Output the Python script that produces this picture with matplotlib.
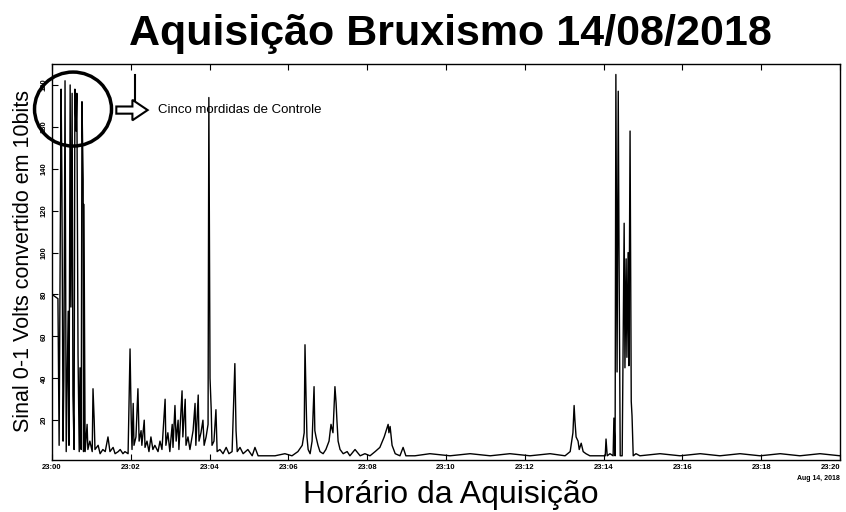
#Aquisicao Bruxismo - sinal do sensor convertido em 10 bits
import numpy as np
import matplotlib
matplotlib.use('Agg')
import matplotlib.pyplot as plt
from matplotlib.patches import Ellipse, FancyArrow
from matplotlib.lines import Line2D

plt.rcParams['font.family'] = ['Liberation Sans', 'DejaVu Sans']

#Step 1: dados (minutos apos 23:00, valor 10 bits)
minutos = [0.00, 0.15, 0.18, 0.23, 0.25, 0.28, 0.30, 0.33, 0.36, 0.41, 0.43, 0.46, 0.48, 0.51,
           0.53, 0.56, 0.58, 0.61, 0.63, 0.66, 0.69, 0.71, 0.74, 0.76, 0.79, 0.80, 0.81, 0.84,
           0.89, 0.91, 0.96, 1.02, 1.04, 1.07, 1.09, 1.17, 1.22, 1.29, 1.35, 1.42, 1.47, 1.55,
           1.60, 1.68, 1.73, 1.80, 1.85, 1.93,
           1.98, 2.01, 2.03, 2.06, 2.08, 2.13, 2.18, 2.21, 2.26, 2.28, 2.34, 2.36, 2.41, 2.46,
           2.51, 2.56, 2.61, 2.69, 2.74, 2.79, 2.87, 2.89, 2.94, 2.99, 3.05, 3.07, 3.12, 3.15,
           3.20, 3.22, 3.30, 3.32, 3.38, 3.40, 3.45, 3.50, 3.58, 3.63, 3.65, 3.71, 3.73, 3.78,
           3.83, 3.86, 3.91, 3.96, 3.98, 4.01, 4.04, 4.06, 4.11, 4.16, 4.19, 4.26, 4.34, 4.42,
           4.49, 4.57, 4.64, 4.67, 4.70, 4.77, 4.85, 4.97, 5.08, 5.15, 5.23,
           5.41, 5.66, 5.91, 6.09, 6.24, 6.35, 6.40, 6.42, 6.45, 6.47, 6.50, 6.55, 6.60, 6.65,
           6.67, 6.70, 6.75, 6.80, 6.88, 6.95, 7.03, 7.08, 7.13, 7.18, 7.21, 7.23, 7.26, 7.31,
           7.39, 7.49, 7.56, 7.69, 7.82, 7.94, 8.07, 8.20, 8.32, 8.43, 8.48, 8.53, 8.55, 8.58,
           8.63, 8.71, 8.83, 8.91, 8.98, 9.21, 9.59, 10.10, 10.61, 11.12, 11.62, 12.13, 12.64,
           13.02, 13.15, 13.22, 13.25, 13.27, 13.30, 13.35, 13.38, 13.43, 13.48, 13.55, 13.65,
           13.91, 14.04, 14.06, 14.09, 14.16, 14.24, 14.26, 14.29, 14.31, 14.34, 14.37, 14.39,
           14.42, 14.47, 14.52, 14.54, 14.57, 14.59, 14.62, 14.64, 14.67, 14.70, 14.72, 14.75,
           14.82, 14.92, 15.43, 15.94, 16.45, 16.95, 17.46, 17.97, 18.48, 18.98, 19.49, 20.00]
sinal = [80, 78, 8, 178, 136, 10, 40, 182, 5, 72, 8, 180, 74, 176,
         32, 6, 178, 158, 176, 51, 5, 45, 6, 172, 135, 5, 123, 5,
         18, 6, 10, 5, 35, 20, 6, 8, 4, 6, 5, 12, 5, 7,
         4, 5, 6, 4, 5, 4,
         54, 20, 6, 28, 8, 12, 35, 10, 15, 8, 20, 7, 10, 5,
         12, 6, 8, 5, 10, 6, 30, 8, 14, 5, 18, 7, 27, 10,
         20, 6, 34, 12, 30, 8, 12, 6, 15, 28, 8, 32, 10, 14,
         20, 8, 12, 18, 174, 40, 25, 8, 10, 25, 5, 6, 4, 7,
         4, 5, 47, 15, 5, 7, 4, 6, 3, 7, 3,
         3, 3, 4, 3, 5, 8, 14, 56, 28, 12, 6, 4, 10, 36,
         15, 12, 8, 5, 4, 6, 10, 18, 14, 36, 28, 20, 10, 6,
         4, 5, 3, 6, 3, 4, 3, 5, 7, 12, 15, 18, 14, 17,
         8, 4, 3, 7, 3, 3, 4, 3, 4, 3, 4, 3, 4,
         3, 5, 14, 27, 20, 12, 10, 6, 9, 5, 4, 3,
         3, 3, 11, 3, 4, 3, 21, 3, 185, 43, 177, 100,
         3, 3, 114, 45, 97, 50, 100, 46, 158, 29, 22, 3,
         4, 3, 4, 3, 4, 3, 4, 3, 4, 3, 4, 3]

xticks = [0, 2, 4, 6, 8, 10, 12, 14, 16, 18, 20]
xlabels = ['23:00', '23:02', '23:04', '23:06', '23:08', '23:10',
           '23:12', '23:14', '23:16', '23:18', '23:20']
yticks = [20, 40, 60, 80, 100, 120, 140, 160, 180]

#Step 2: figura
fig = plt.figure(figsize=(8.46, 5.12), dpi=100)
ax = fig.add_axes([0.0615, 0.1016, 0.9315, 0.7734])
ax.plot(minutos, sinal, 'k', linewidth=1.0)
ax.set_xlim(0, 20)
ax.set_ylim(1, 190)
ax.set_xticks(xticks)
ax.set_xticklabels(xlabels, fontsize=5.5, fontweight='bold')
ax.get_xticklabels()[-1].set_ha('right')
ax.set_yticks(yticks)
ax.set_yticklabels([str(v) for v in yticks], fontsize=5.5, fontweight='bold',
                   rotation=90, va='center')
ax.tick_params(direction='in', length=4, width=0.8, pad=3, top=True)
for s in ax.spines.values():
    s.set_linewidth(1.0)

fig.text(0.532, 0.933, 'Aquisição Bruxismo 14/08/2018', fontsize=31,
         fontweight='bold', ha='center', va='center')
fig.text(0.533, 0.033, 'Horário da Aquisição', fontsize=23, ha='center', va='center')
fig.text(0.028, 0.49, 'Sinal 0-1 Volts convertido em 10bits', fontsize=15.5,
         rotation=90, ha='center', va='center')
fig.text(0.967, 0.066, 'Aug 14, 2018', fontsize=5, fontweight='bold',
         ha='center', va='center')

#Step 3: anotacao das mordidas de controle
fig.add_artist(Ellipse((0.0863, 0.787), 0.091, 0.1445, transform=fig.transFigure,
                       fill=False, edgecolor='k', linewidth=2.5))
fig.add_artist(FancyArrow(0.1375, 0.785, 0.037, 0, width=0.014, head_width=0.04,
                          head_length=0.018, length_includes_head=True,
                          transform=fig.transFigure, facecolor='white',
                          edgecolor='k', linewidth=1.5))
fig.add_artist(Line2D([0.1596, 0.1596], [0.853, 0.805], transform=fig.transFigure,
                      color='k', linewidth=1.5))
fig.text(0.187, 0.785, 'Cinco mordidas de Controle', fontsize=9.5, ha='left', va='center')

fig.savefig('out.png', dpi=100)
